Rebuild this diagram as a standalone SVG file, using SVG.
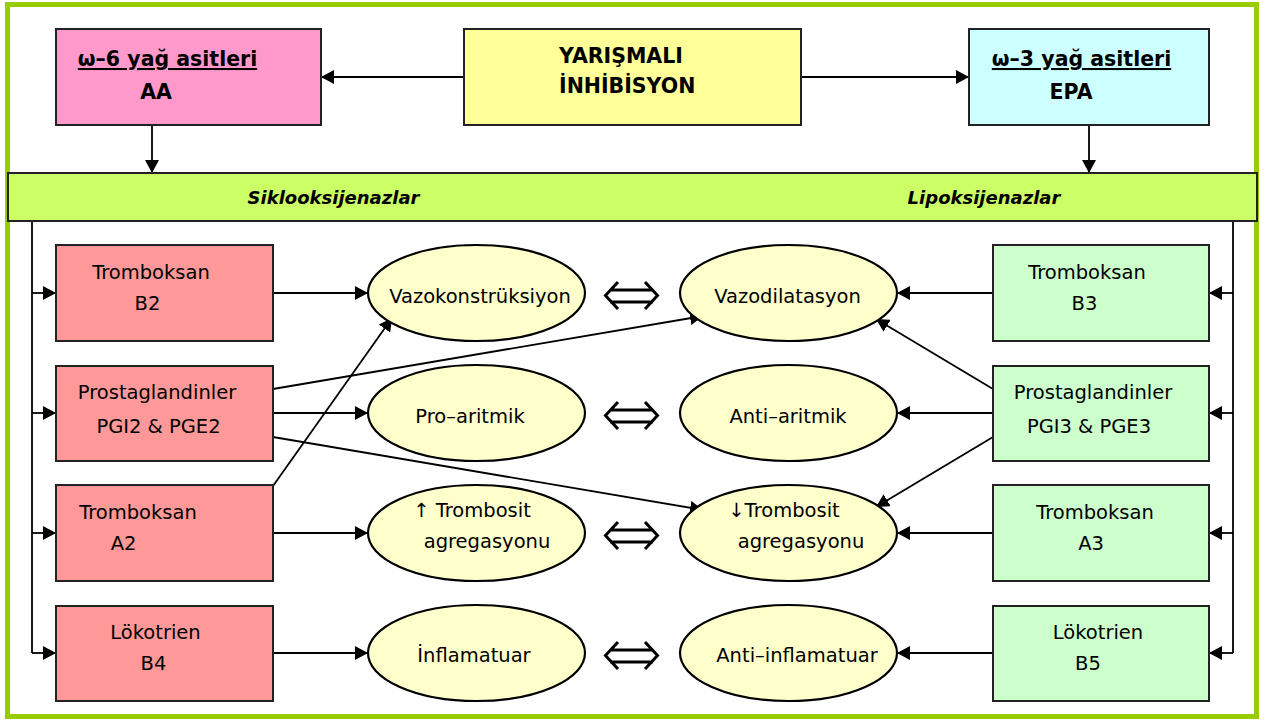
<svg xmlns="http://www.w3.org/2000/svg" width="1272" height="724" viewBox="0 0 1272 724">
<style>
.t{font-family:"DejaVu Sans","Liberation Sans",sans-serif;font-size:19.5px;fill:#000;text-anchor:middle}
.b{font-weight:bold;font-size:20.5px}
.bi{font-weight:bold;font-style:italic;font-size:18px}
.box{stroke:#222;stroke-width:2}
.ell{fill:#ffffcc;stroke:#000;stroke-width:2.2}
.c{stroke:#000;stroke-width:1.8;fill:none}
.dbl{fill:none;stroke:#000;stroke-width:3}
</style>
<defs>
<marker id="ah" markerUnits="userSpaceOnUse" markerWidth="14" markerHeight="14" refX="13" refY="7" orient="auto">
<path d="M0,0 L13,7 L0,14 Z" fill="#000"/>
</marker>
<path id="eq" class="dbl" d="M618,282 L605.5,295.5 L618,309 M645,282 L657.5,295.5 L645,309 M610,290 H653 M610,302 H653"/>
</defs>
<rect x="0" y="0" width="1272" height="724" fill="#fff"/>
<rect x="7.5" y="4.5" width="1249" height="712" fill="#fff" stroke="#99cc00" stroke-width="5"/>

<g id="connectors">
<line class="c" x1="464" y1="77" x2="321" y2="77" marker-end="url(#ah)"/>
<line class="c" x1="801" y1="77" x2="969" y2="77" marker-end="url(#ah)"/>
<line class="c" x1="152" y1="125" x2="152" y2="173" marker-end="url(#ah)"/>
<line class="c" x1="1089" y1="125" x2="1089" y2="173" marker-end="url(#ah)"/>
<path class="c" d="M32,221 V653"/>
<path class="c" d="M1233,221 V653"/>
<line class="c" x1="32" y1="293" x2="56" y2="293" marker-end="url(#ah)"/>
<line class="c" x1="32" y1="413" x2="56" y2="413" marker-end="url(#ah)"/>
<line class="c" x1="32" y1="533" x2="56" y2="533" marker-end="url(#ah)"/>
<line class="c" x1="32" y1="653" x2="56" y2="653" marker-end="url(#ah)"/>
<line class="c" x1="1233" y1="293" x2="1209" y2="293" marker-end="url(#ah)"/>
<line class="c" x1="1233" y1="413" x2="1209" y2="413" marker-end="url(#ah)"/>
<line class="c" x1="1233" y1="533" x2="1209" y2="533" marker-end="url(#ah)"/>
<line class="c" x1="1233" y1="653" x2="1209" y2="653" marker-end="url(#ah)"/>
<line class="c" x1="273" y1="293" x2="368" y2="293" marker-end="url(#ah)"/>
<line class="c" x1="273" y1="413" x2="368" y2="413" marker-end="url(#ah)"/>
<line class="c" x1="273" y1="533" x2="368" y2="533" marker-end="url(#ah)"/>
<line class="c" x1="273" y1="653" x2="368" y2="653" marker-end="url(#ah)"/>
<line class="c" x1="993" y1="293" x2="897" y2="293" marker-end="url(#ah)"/>
<line class="c" x1="993" y1="413" x2="897" y2="413" marker-end="url(#ah)"/>
<line class="c" x1="993" y1="533" x2="897" y2="533" marker-end="url(#ah)"/>
<line class="c" x1="993" y1="653" x2="897" y2="653" marker-end="url(#ah)"/>
<line class="c" x1="273" y1="389" x2="703" y2="316" marker-end="url(#ah)"/>
<line class="c" x1="273" y1="486" x2="392" y2="318" marker-end="url(#ah)"/>
<line class="c" x1="273" y1="437" x2="703" y2="510" marker-end="url(#ah)"/>
<line class="c" x1="993" y1="389" x2="876" y2="319" marker-end="url(#ah)"/>
<line class="c" x1="993" y1="437" x2="876" y2="507" marker-end="url(#ah)"/>
</g>

<g id="omega6">
<rect class="box" x="56" y="29" width="265" height="96" fill="#ff99cc"/>
<text class="t b" x="167.5" y="66" text-decoration="underline">ω–6 yağ asitleri</text>
<text class="t b" x="156" y="99">AA</text>
</g>
<g id="yarismali">
<rect class="box" x="464" y="29" width="337" height="96" fill="#ffff99"/>
<text class="t b" x="559" y="63" style="text-anchor:start">YARIŞMALI</text>
<text class="t b" x="559" y="93" style="text-anchor:start">İNHİBİSYON</text>
</g>
<g id="omega3">
<rect class="box" x="969" y="29" width="240" height="96" fill="#ccffff"/>
<text class="t b" x="1081.5" y="66" text-decoration="underline">ω–3 yağ asitleri</text>
<text class="t b" x="1071" y="99">EPA</text>
</g>
<g id="enzymes">
<rect class="box" x="8" y="173" width="1249" height="48" fill="#ccff66"/>
<text class="t bi" x="333.5" y="204">Siklooksijenazlar</text>
<text class="t bi" x="984" y="204">Lipoksijenazlar</text>
</g>

<g id="tromboksanB2">
<rect class="box" x="56" y="245" width="217" height="96" fill="#ff9999"/>
<text class="t" x="151" y="279">Tromboksan</text>
<text class="t" x="147.5" y="310">B2</text>
</g>
<g id="prostaglandin2">
<rect class="box" x="56" y="366" width="217" height="95" fill="#ff9999"/>
<text class="t" x="157" y="399">Prostaglandinler</text>
<text class="t" x="158.5" y="433">PGI2 &amp; PGE2</text>
</g>
<g id="tromboksanA2">
<rect class="box" x="56" y="485" width="217" height="96" fill="#ff9999"/>
<text class="t" x="138" y="519">Tromboksan</text>
<text class="t" x="123.5" y="550">A2</text>
</g>
<g id="lokotrienB4">
<rect class="box" x="56" y="606" width="217" height="95" fill="#ff9999"/>
<text class="t" x="155.5" y="639">Lökotrien</text>
<text class="t" x="153.5" y="670">B4</text>
</g>

<g id="tromboksanB3">
<rect class="box" x="993" y="245" width="216" height="96" fill="#ccffcc"/>
<text class="t" x="1087" y="279">Tromboksan</text>
<text class="t" x="1084.5" y="310">B3</text>
</g>
<g id="prostaglandin3">
<rect class="box" x="993" y="366" width="216" height="95" fill="#ccffcc"/>
<text class="t" x="1093" y="399">Prostaglandinler</text>
<text class="t" x="1089" y="433">PGI3 &amp; PGE3</text>
</g>
<g id="tromboksanA3">
<rect class="box" x="993" y="485" width="216" height="96" fill="#ccffcc"/>
<text class="t" x="1095" y="519">Tromboksan</text>
<text class="t" x="1091" y="550">A3</text>
</g>
<g id="lokotrienB5">
<rect class="box" x="993" y="606" width="216" height="95" fill="#ccffcc"/>
<text class="t" x="1098" y="639">Lökotrien</text>
<text class="t" x="1088" y="670">B5</text>
</g>

<g id="vazokonstruksiyon">
<ellipse class="ell" cx="476.5" cy="293" rx="108.5" ry="48"/>
<text class="t" x="480" y="303">Vazokonstrüksiyon</text>
</g>
<g id="vazodilatasyon">
<ellipse class="ell" cx="788.5" cy="293" rx="108.5" ry="48"/>
<text class="t" x="787.5" y="303">Vazodilatasyon</text>
</g>
<g id="proaritmik">
<ellipse class="ell" cx="476.5" cy="413" rx="108.5" ry="48"/>
<text class="t" x="470" y="423">Pro–aritmik</text>
</g>
<g id="antiaritmik">
<ellipse class="ell" cx="788.5" cy="413" rx="108.5" ry="48"/>
<text class="t" x="788" y="423">Anti–aritmik</text>
</g>
<g id="trombositUp">
<ellipse class="ell" cx="476.5" cy="533" rx="108.5" ry="48"/>
<text class="t" x="472" y="517">↑ Trombosit</text>
<text class="t" x="487" y="548">agregasyonu</text>
</g>
<g id="trombositDown">
<ellipse class="ell" cx="788.5" cy="533" rx="108.5" ry="48"/>
<text class="t" x="784" y="517">↓Trombosit</text>
<text class="t" x="801" y="548">agregasyonu</text>
</g>
<g id="inflamatuar">
<ellipse class="ell" cx="476.5" cy="653" rx="108.5" ry="48"/>
<text class="t" x="474" y="662">İnflamatuar</text>
</g>
<g id="antiinflamatuar">
<ellipse class="ell" cx="788.5" cy="653" rx="108.5" ry="48"/>
<text class="t" x="797" y="662">Anti–inflamatuar</text>
</g>

<g id="equivalence">
<use href="#eq"/>
<use href="#eq" y="120"/>
<use href="#eq" y="240"/>
<use href="#eq" y="360"/>
</g>
</svg>
